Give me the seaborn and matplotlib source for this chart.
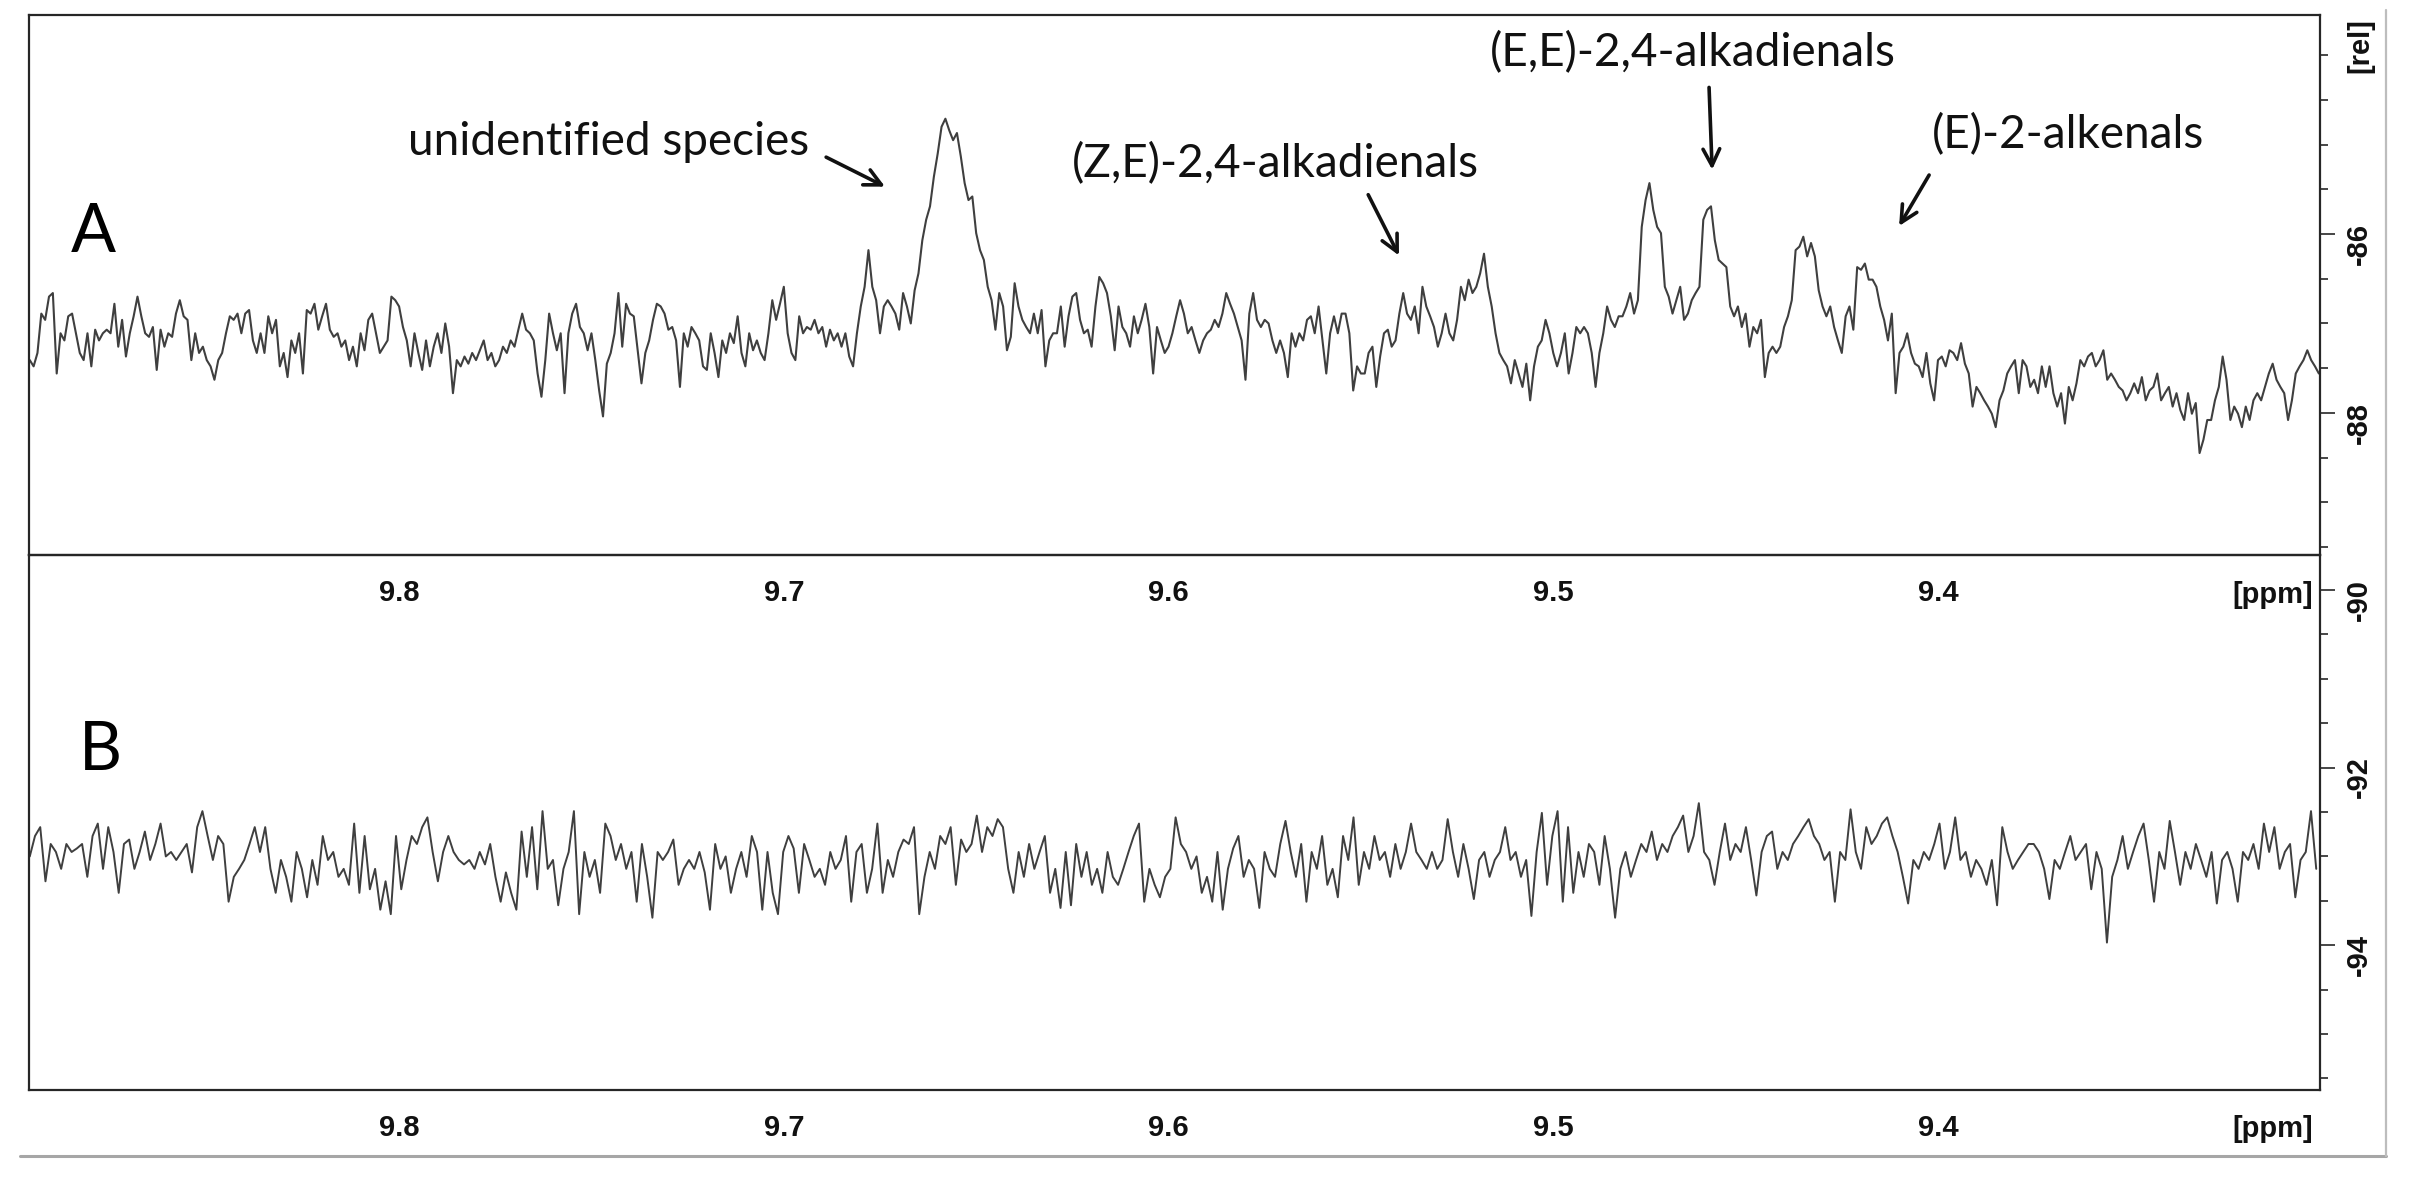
import numpy as np
import pandas as pd
import matplotlib
matplotlib.use("Agg")
import matplotlib.pyplot as plt
from matplotlib.lines import Line2D
from matplotlib.ticker import FixedLocator, MultipleLocator
import seaborn as sns

# ─────────────────────────────────────────────
# Data
# ─────────────────────────────────────────────
# spectrum A: chemical shift axis sampled every PPM_A_STEP from PPM_A_START
PPM_A_START = 9.896
PPM_A_STEP = 0.001
rel_a = [
    -87.41, -87.48, -87.33, -86.89, -86.96, -86.70, -86.66, -87.56, -87.11, -87.19,
    -86.92, -86.89, -87.11, -87.33, -87.41, -87.11, -87.48, -87.07, -87.19, -87.11,
    -87.07, -87.11, -86.78, -87.26, -86.96, -87.37, -87.11, -86.92, -86.70, -86.92,
    -87.11, -87.15, -87.04, -87.52, -87.07, -87.26, -87.11, -87.15, -86.89, -86.74,
    -86.92, -86.96, -87.41, -87.11, -87.33, -87.26, -87.41, -87.48, -87.63, -87.41,
    -87.33, -87.11, -86.92, -86.96, -86.89, -87.11, -86.89, -86.85, -87.19, -87.33,
    -87.11, -87.33, -86.92, -87.11, -86.96, -87.48, -87.33, -87.60, -87.19, -87.33,
    -87.11, -87.56, -86.85, -86.89, -86.78, -87.07, -86.92, -86.78, -87.07, -87.15,
    -87.11, -87.26, -87.19, -87.41, -87.26, -87.48, -87.11, -87.30, -86.96, -86.89,
    -87.11, -87.33, -87.26, -87.19, -86.70, -86.74, -86.81, -87.04, -87.19, -87.48,
    -87.11, -87.33, -87.52, -87.19, -87.48, -87.26, -87.11, -87.33, -87.00, -87.26,
    -87.78, -87.41, -87.48, -87.37, -87.45, -87.33, -87.41, -87.30, -87.19, -87.41,
    -87.33, -87.48, -87.41, -87.26, -87.33, -87.19, -87.26, -87.07, -86.89, -87.07,
    -87.11, -87.19, -87.56, -87.82, -87.41, -86.89, -87.11, -87.30, -87.11, -87.78,
    -87.11, -86.89, -86.78, -87.04, -87.11, -87.30, -87.11, -87.41, -87.75,
    -88.04, -87.45, -87.33, -87.11, -86.66, -87.26, -86.78, -86.89, -86.92, -87.30,
    -87.67, -87.33, -87.19, -86.96, -86.78, -86.81, -86.89, -87.07, -87.04, -87.19,
    -87.71, -87.11, -87.26, -87.04, -87.11, -87.19, -87.48, -87.52, -87.11, -87.33,
    -87.60, -87.19, -87.33, -87.11, -87.22, -86.92, -87.33, -87.48, -87.11, -87.30,
    -87.19, -87.33, -87.41, -87.11, -86.74, -86.96, -86.78, -86.59, -87.11, -87.33,
    -87.41, -86.92, -87.11, -87.04, -87.07, -86.96, -87.11, -87.04, -87.26, -87.07,
    -87.19, -87.11, -87.26, -87.11, -87.37, -87.48, -87.11, -86.81, -86.59, -86.18,
    -86.59, -86.74, -87.11, -86.81, -86.74, -86.81, -86.89, -87.07, -86.66, -86.81,
    -87.00, -86.63, -86.44, -86.07, -85.84, -85.69, -85.36, -85.10, -84.80, -84.71,
    -84.84, -84.95, -84.87, -85.13, -85.43, -85.62, -85.58, -85.99, -86.18, -86.29,
    -86.59, -86.74, -87.07, -86.66, -86.81, -87.30, -87.15, -86.55, -86.81, -86.96,
    -87.04, -87.11, -86.89, -87.11, -86.85, -87.48, -87.19, -87.11, -87.11, -86.81,
    -87.26, -86.92, -86.70, -86.66, -86.96, -87.11, -87.07, -87.26, -86.81, -86.48,
    -86.55, -86.66, -86.92, -87.30, -86.81, -87.04, -87.11, -87.26, -86.92, -87.11,
    -86.96, -86.78, -87.04, -87.56, -87.04, -87.19, -87.33,
    -87.26, -87.11, -86.92, -86.74, -86.89, -87.11, -87.04, -87.19, -87.33, -87.19,
    -87.11, -87.07, -86.96, -87.04, -86.89, -86.66, -86.78, -86.89, -87.04, -87.19,
    -87.63, -86.89, -86.66, -86.96, -87.04, -86.96, -87.00, -87.19, -87.33, -87.19,
    -87.33, -87.60, -87.11, -87.26, -87.11, -87.19, -86.96, -86.92, -87.11, -86.81,
    -87.19, -87.56, -87.11, -86.92, -87.11, -86.89, -86.89, -87.11, -87.75, -87.48,
    -87.56, -87.56, -87.33, -87.26, -87.71, -87.37, -87.11, -87.07, -87.26, -87.19,
    -86.89, -86.66, -86.89, -86.96, -86.81, -87.11, -86.59, -86.81, -86.92, -87.04,
    -87.26, -87.11, -86.89, -87.11, -87.19, -86.96, -86.59, -86.74, -86.51, -86.66,
    -86.59, -86.44, -86.22, -86.59, -86.81, -87.11, -87.33, -87.41, -87.48, -87.67,
    -87.41, -87.56, -87.71, -87.45, -87.86, -87.48, -87.26, -87.19, -86.96, -87.11,
    -87.33, -87.48, -87.33, -87.11, -87.56, -87.33, -87.04, -87.11, -87.04, -87.11,
    -87.33, -87.71, -87.33, -87.11, -86.81, -86.96, -87.04, -86.92, -86.92, -86.81,
    -86.66, -86.89, -86.74, -85.92, -85.62, -85.43, -85.73, -85.92, -85.99, -86.59,
    -86.70, -86.89, -86.74, -86.59, -86.96, -86.89, -86.74, -86.66, -86.59, -85.84,
    -85.73, -85.69, -86.07, -86.29, -86.33, -86.37, -86.81, -86.92, -86.81, -87.04,
    -86.89, -87.26, -87.04, -87.11, -86.96, -87.60, -87.33, -87.26, -87.33, -87.26,
    -87.04, -86.92, -86.74, -86.18, -86.14, -86.03, -86.25, -86.10, -86.25, -86.63,
    -86.81, -86.92, -86.81, -87.04, -87.19, -87.33, -86.92, -86.81, -87.07, -86.37,
    -86.40, -86.33, -86.51, -86.51, -86.59, -86.81, -86.96, -87.19, -86.89, -87.78,
    -87.33, -87.26, -87.11, -87.33, -87.45, -87.48, -87.60, -87.33, -87.67, -87.86,
    -87.41, -87.37, -87.48, -87.30, -87.33, -87.41, -87.22, -87.45, -87.56, -87.93,
    -87.71, -87.78, -87.86, -87.93, -88.01, -88.16, -87.86, -87.75, -87.56, -87.48,
    -87.41, -87.78, -87.41, -87.48, -87.71, -87.63, -87.78, -87.48, -87.71, -87.48,
    -87.78, -87.93, -87.78, -88.12, -87.71, -87.86, -87.67, -87.41, -87.48, -87.37,
    -87.33, -87.48, -87.41, -87.30, -87.63, -87.56, -87.63, -87.71, -87.75, -87.86,
    -87.78, -87.67, -87.78, -87.60, -87.86, -87.75, -87.71, -87.56, -87.86, -87.78,
    -87.71, -87.93, -87.78, -87.97, -88.08, -87.78, -88.01, -87.89, -88.45, -88.30,
    -88.08, -88.08, -87.86, -87.71, -87.37, -87.63, -88.08, -87.93, -88.01, -88.16,
    -87.93, -88.08, -87.86, -87.78, -87.86, -87.71, -87.56, -87.45, -87.63, -87.71,
    -87.78, -88.08, -87.86, -87.56, -87.48, -87.41, -87.30, -87.41, -87.48, -87.56,
]

# spectrum B: chemical shift axis sampled every PPM_B_STEP from PPM_B_START
PPM_B_START = 9.896
PPM_B_STEP = 0.00136
rel_b = [
    -93.00, -92.77, -92.67, -93.28, -92.86, -92.95, -93.14, -92.86, -92.95, -92.91,
    -92.86, -93.23, -92.77, -92.63, -93.14, -92.67, -92.95, -93.41, -92.86, -92.81,
    -93.14, -92.95, -92.72, -93.04, -92.86, -92.63, -93.00, -92.95, -93.04, -92.95,
    -92.86, -93.18, -92.67, -92.49, -92.77, -93.04, -92.77, -92.86, -93.51, -93.23,
    -93.14, -93.04, -92.86, -92.67, -92.95, -92.67, -93.14, -93.41, -93.04, -93.23,
    -93.51, -92.95, -93.14, -93.46, -93.04, -93.32, -92.77, -93.04, -92.95, -93.23,
    -93.14, -93.32, -92.63, -93.41, -92.77, -93.37, -93.14, -93.60, -93.28, -93.65,
    -92.77, -93.37, -93.04, -92.77, -92.86, -92.67, -92.56, -92.95, -93.28, -92.95,
    -92.77, -92.95, -93.04, -93.09, -93.04, -93.14, -92.95, -93.09, -92.86, -93.23,
    -93.51, -93.18, -93.41, -93.60, -92.72, -93.23, -92.67, -93.37, -92.49, -93.14,
    -93.04, -93.55, -93.14, -92.95, -92.49, -93.65, -92.95, -93.23, -93.04, -93.41,
    -92.63, -92.77, -93.04, -92.86, -93.14, -92.95, -93.51, -92.86, -93.23, -93.69,
    -92.95, -93.04, -92.95, -92.81, -93.32, -93.14, -93.04, -93.14, -92.95, -93.18,
    -93.60, -92.86, -93.14, -93.00, -93.41, -93.14, -92.95, -93.23, -92.77, -92.95,
    -93.60, -92.95, -93.41, -93.65, -92.95, -92.77, -92.91, -93.41, -92.86, -93.04,
    -93.23,
    -93.14, -93.32, -92.95, -93.14, -93.04, -92.77, -93.51, -92.95, -92.86, -93.41,
    -93.14, -92.63, -93.41, -93.04, -93.23, -92.95, -92.81, -92.86, -92.67, -93.65,
    -93.23, -92.95, -93.14, -92.77, -92.86, -92.67, -93.32, -92.81, -92.95, -92.86,
    -92.54, -92.95, -92.67, -92.77, -92.58, -92.67, -93.14, -93.41, -92.95, -93.23,
    -92.86, -93.14, -92.95, -92.77, -93.41, -93.14, -93.58, -92.95, -93.55, -92.86,
    -93.23, -92.95, -93.32, -93.14, -93.41, -92.95, -93.23, -93.32, -93.14, -92.95,
    -92.77, -92.63, -93.51, -93.14, -93.32, -93.46, -93.23, -93.14, -92.56, -92.86,
    -92.95, -93.14, -93.00, -93.41, -93.23, -93.51, -92.95, -93.60, -93.14, -92.91,
    -92.77, -93.23, -93.04, -93.14, -93.58, -92.95, -93.14, -93.23, -92.86, -92.60,
    -92.95, -93.23, -92.86, -93.51, -92.95, -93.14, -92.77, -93.32, -93.14, -93.46,
    -92.77, -93.04, -92.56, -93.32, -92.95, -93.14, -92.77, -93.04, -92.95, -93.23,
    -92.86, -93.14, -92.95, -92.63, -92.95, -93.04, -93.14, -92.95, -93.14, -93.04,
    -92.58, -92.95, -93.23, -92.86, -93.14, -93.48, -93.04, -92.95, -93.23, -93.04,
    -92.95, -92.67, -93.04, -92.95, -93.23, -93.04, -93.67, -92.95, -92.51, -93.32,
    -92.77, -92.49, -93.51, -92.67, -93.41, -92.95, -93.23, -92.86, -92.95, -93.32,
    -92.77, -93.14, -93.69,
    -93.14, -92.95, -93.23, -93.04, -92.86, -92.95, -92.72, -93.04, -92.86, -92.95,
    -92.77, -92.67, -92.54, -92.95, -92.77, -92.40, -92.95, -93.04, -93.32, -92.95,
    -92.63, -93.04, -92.86, -92.95, -92.67, -93.04, -93.44, -92.95, -92.77, -92.72,
    -93.14, -92.95, -93.04, -92.86, -92.77, -92.67, -92.58, -92.77, -92.86, -93.04,
    -92.95, -93.51, -92.95, -93.04, -92.47, -92.95, -93.14, -92.67, -92.86, -92.77,
    -92.63, -92.56, -92.77, -92.95, -93.23, -93.53, -93.04, -93.14, -92.95, -93.04,
    -92.86, -92.63, -93.14, -92.95, -92.56, -93.04, -92.95, -93.23, -93.04, -93.14,
    -93.32, -93.04, -93.55, -92.67, -92.95, -93.14, -93.04, -92.95, -92.86, -92.86,
    -92.95, -93.14, -93.48, -93.04, -93.14, -92.95, -92.77, -93.04, -92.95, -92.86,
    -93.37, -92.95, -93.14, -93.97, -93.23, -93.04, -92.77, -93.14, -92.95, -92.77,
    -92.63, -93.04, -93.51, -92.95, -93.14, -92.60, -92.95, -93.32, -92.95, -93.14,
    -92.86, -93.04, -93.23, -92.95, -93.53, -93.04, -92.95, -93.14, -93.51, -92.95,
    -93.04, -92.86, -93.14, -92.63, -92.95, -92.67, -93.14, -92.95, -92.86, -93.46,
    -93.04, -92.95, -92.49, -93.14,
]

x_ticks = [9.8, 9.7, 9.6, 9.5, 9.4]
x_ticklabels = ["9.8", "9.7", "9.6", "9.5", "9.4"]
ya_ticks = [-86, -88]
yb_ticks = [-90, -92, -94]
peak_names = ["unidentified species", "(Z,E)-2,4-alkadienals",
              "(E,E)-2,4-alkadienals", "(E)-2-alkenals"]

ppm_a = PPM_A_START - PPM_A_STEP * np.arange(len(rel_a))
ppm_b = PPM_B_START - PPM_B_STEP * np.arange(len(rel_b))
df_a = pd.DataFrame({"ppm": ppm_a, "rel": rel_a})
df_b = pd.DataFrame({"ppm": ppm_b, "rel": rel_b})

# ─────────────────────────────────────────────
# Style
# ─────────────────────────────────────────────
sns.set_theme(style="white")
plt.rcParams["font.family"] = ["Liberation Sans", "DejaVu Sans"]

TRACE = "#3f3f3f"
AXIS = "#262626"
TICK_FONT = dict(family="Liberation Sans", weight="bold", size=21)
NOTE_FONT = "Lato"

W, H = 2417, 1184
fig = plt.figure(figsize=(W / 100, H / 100), dpi=100)
fig.patch.set_facecolor("white")

# panel frames in pixels: left 29, right 2320, A 15..555, B 555..1090
ax_a = fig.add_axes([29 / W, 1 - 555 / H, 2291 / W, 540 / H])
ax_b = fig.add_axes([29 / W, 1 - 1090 / H, 2291 / W, 535 / H])

sns.lineplot(data=df_a, x="ppm", y="rel", ax=ax_a, color=TRACE, linewidth=1.5,
             estimator=None, sort=False, legend=False)
sns.lineplot(data=df_b, x="ppm", y="rel", ax=ax_b, color=TRACE, linewidth=1.4,
             estimator=None, sort=False, legend=False)

ax_a.set_ylim(-89.59, -83.55)
ax_b.set_ylim(-95.63, -89.606)

for ax, yt in ((ax_a, ya_ticks), (ax_b, yb_ticks)):
    ax.set_facecolor("none")
    ax.set_xlim(9.8962, 9.3007)
    ax.set_xlabel("")
    ax.set_ylabel("")
    ax.xaxis.set_major_locator(FixedLocator(x_ticks))
    ax.set_xticklabels(x_ticklabels)
    ax.xaxis.set_minor_locator(MultipleLocator(0.02))
    ax.yaxis.tick_right()
    ax.yaxis.set_major_locator(FixedLocator(yt))
    ax.set_yticklabels([f"{v:d}" for v in yt])
    ax.yaxis.set_minor_locator(MultipleLocator(0.5))
    ax.tick_params(axis="x", which="major", direction="out", length=11.5,
                   width=1.2, color=AXIS, pad=6)
    ax.tick_params(axis="x", which="minor", direction="out", length=7,
                   width=1.2, color=AXIS)
    ax.tick_params(axis="y", which="major", direction="out", length=11,
                   width=1.2, color=AXIS, pad=7, labelrotation=90)
    ax.tick_params(axis="y", which="minor", direction="out", length=6,
                   width=1.2, color=AXIS)
    for lbl in ax.get_xticklabels() + ax.get_yticklabels():
        lbl.set_fontfamily(TICK_FONT["family"])
        lbl.set_fontweight(TICK_FONT["weight"])
        lbl.set_fontsize(TICK_FONT["size"])
        lbl.set_color("#111111")
    for sp in ax.spines.values():
        sp.set_color(AXIS)
        sp.set_linewidth(1.6)
    ax.grid(False)

# unit labels
fig.text(2360 / W, 1 - 46 / H, "[rel]", rotation=90, ha="center", va="center",
         color="#111111", **TICK_FONT)
for yp in (595, 1129):
    fig.text(2273 / W, 1 - yp / H, "[ppm]", ha="center", va="center",
             color="#111111", **TICK_FONT)

# panel letters
ax_a.text(9.8853, -86.20, "A", ha="left", va="baseline", fontsize=48,
          family=NOTE_FONT, color="black")
ax_b.text(9.8832, -92.03, "B", ha="left", va="baseline", fontsize=48,
          family=NOTE_FONT, color="black")

# peak annotations
note_at = [(9.7977, -85.12), (9.6251, -85.36), (9.5164, -84.12), (9.4016, -85.04)]
arrow_from = [(9.6890, -85.14), (9.5481, -85.56), (9.4595, -84.36), (9.4023, -85.34)]
arrow_to = [(9.6737, -85.47), (9.5401, -86.24), (9.4587, -85.28), (9.4101, -85.91)]
for name, (tx, ty), src, dst in zip(peak_names, note_at, arrow_from, arrow_to):
    ax_a.text(tx, ty, name, ha="left", va="baseline", fontsize=33,
              family=NOTE_FONT, color="#111111")
    ax_a.annotate("", xy=dst, xytext=src,
                  arrowprops=dict(arrowstyle="->", lw=2.6, color="#111111",
                                  mutation_scale=30, shrinkA=0, shrinkB=0))

# grey outer frame of the screenshot
fig.add_artist(Line2D([20 / W, 2386 / W], [1 - 1156 / H, 1 - 1156 / H],
                      transform=fig.transFigure, color="#a6a6a6", lw=2.2))
fig.add_artist(Line2D([2386 / W, 2386 / W], [1 - 10 / H, 1 - 1156 / H],
                      transform=fig.transFigure, color="#bdbdbd", lw=1.6))

fig.savefig("out.png", dpi=100, facecolor="white")
